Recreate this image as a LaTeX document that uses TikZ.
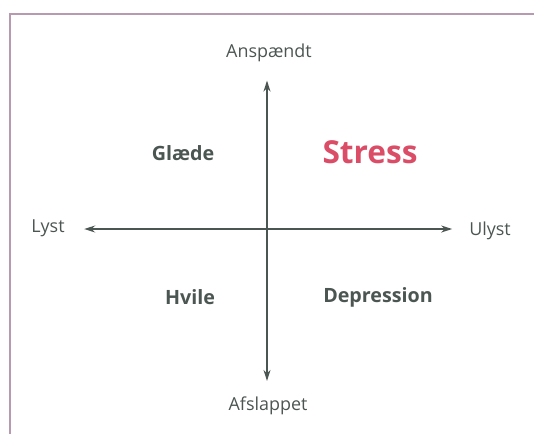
\documentclass[tikz,border=0pt]{standalone}
\usepackage{fontspec}
\setmainfont{Open Sans}
\usetikzlibrary{arrows.meta}
\definecolor{axgray}{HTML}{4B5552}
\definecolor{framepurple}{HTML}{B79AB1}
\definecolor{stressred}{HTML}{DB4C66}
\tikzset{
  axlabel/.style={text=axgray, font=\fontsize{10.2}{12}\selectfont, inner sep=1pt},
  quadlabel/.style={text=axgray, font=\fontsize{11.2}{13}\selectfont\bfseries, inner sep=1pt},
  stresslabel/.style={text=stressred, font=\fontsize{18}{21}\selectfont\bfseries, inner sep=1pt},
  axarrow/.style={-{Stealth[length=2.2mm,width=1.4mm]}, line width=0.8pt, draw=axgray},
  framebox/.style={draw=framepurple, line width=1.1pt}
}

\begin{document}
\begin{tikzpicture}[x=0.02cm,y=-0.02cm]
  \useasboundingbox (0,0) rectangle (534,434);
  \draw[framebox] (10,434) -- (10,14) -- (534,14);
  \coordinate (orig) at (267,229);
  \node[axlabel] (top) at (269,53) {Anspændt};
  \node[axlabel] (bot) at (268,406) {Afslappet};
  \node[axlabel] (left) at (48,228) {Lyst};
  \node[axlabel] (right) at (490,231) {Ulyst};
  \node[quadlabel] (q1) at (183,153) {Glæde};
  \node[stresslabel] (q2) at (370,152) {Stress};
  \node[quadlabel] (q3) at (190,297) {Hvile};
  \node[quadlabel] (q4) at (378,297) {Depression};
  \draw[axarrow] (orig) -- ([yshift=-0.33cm]top.south -| orig);
  \draw[axarrow] (orig) -- ([yshift=0.28cm]bot.north -| orig);
  \draw[axarrow] (orig) -- ([xshift=0.35cm]left.east |- orig);
  \draw[axarrow] (orig) -- ([xshift=-0.30cm]right.west |- orig);
\end{tikzpicture}
\end{document}
